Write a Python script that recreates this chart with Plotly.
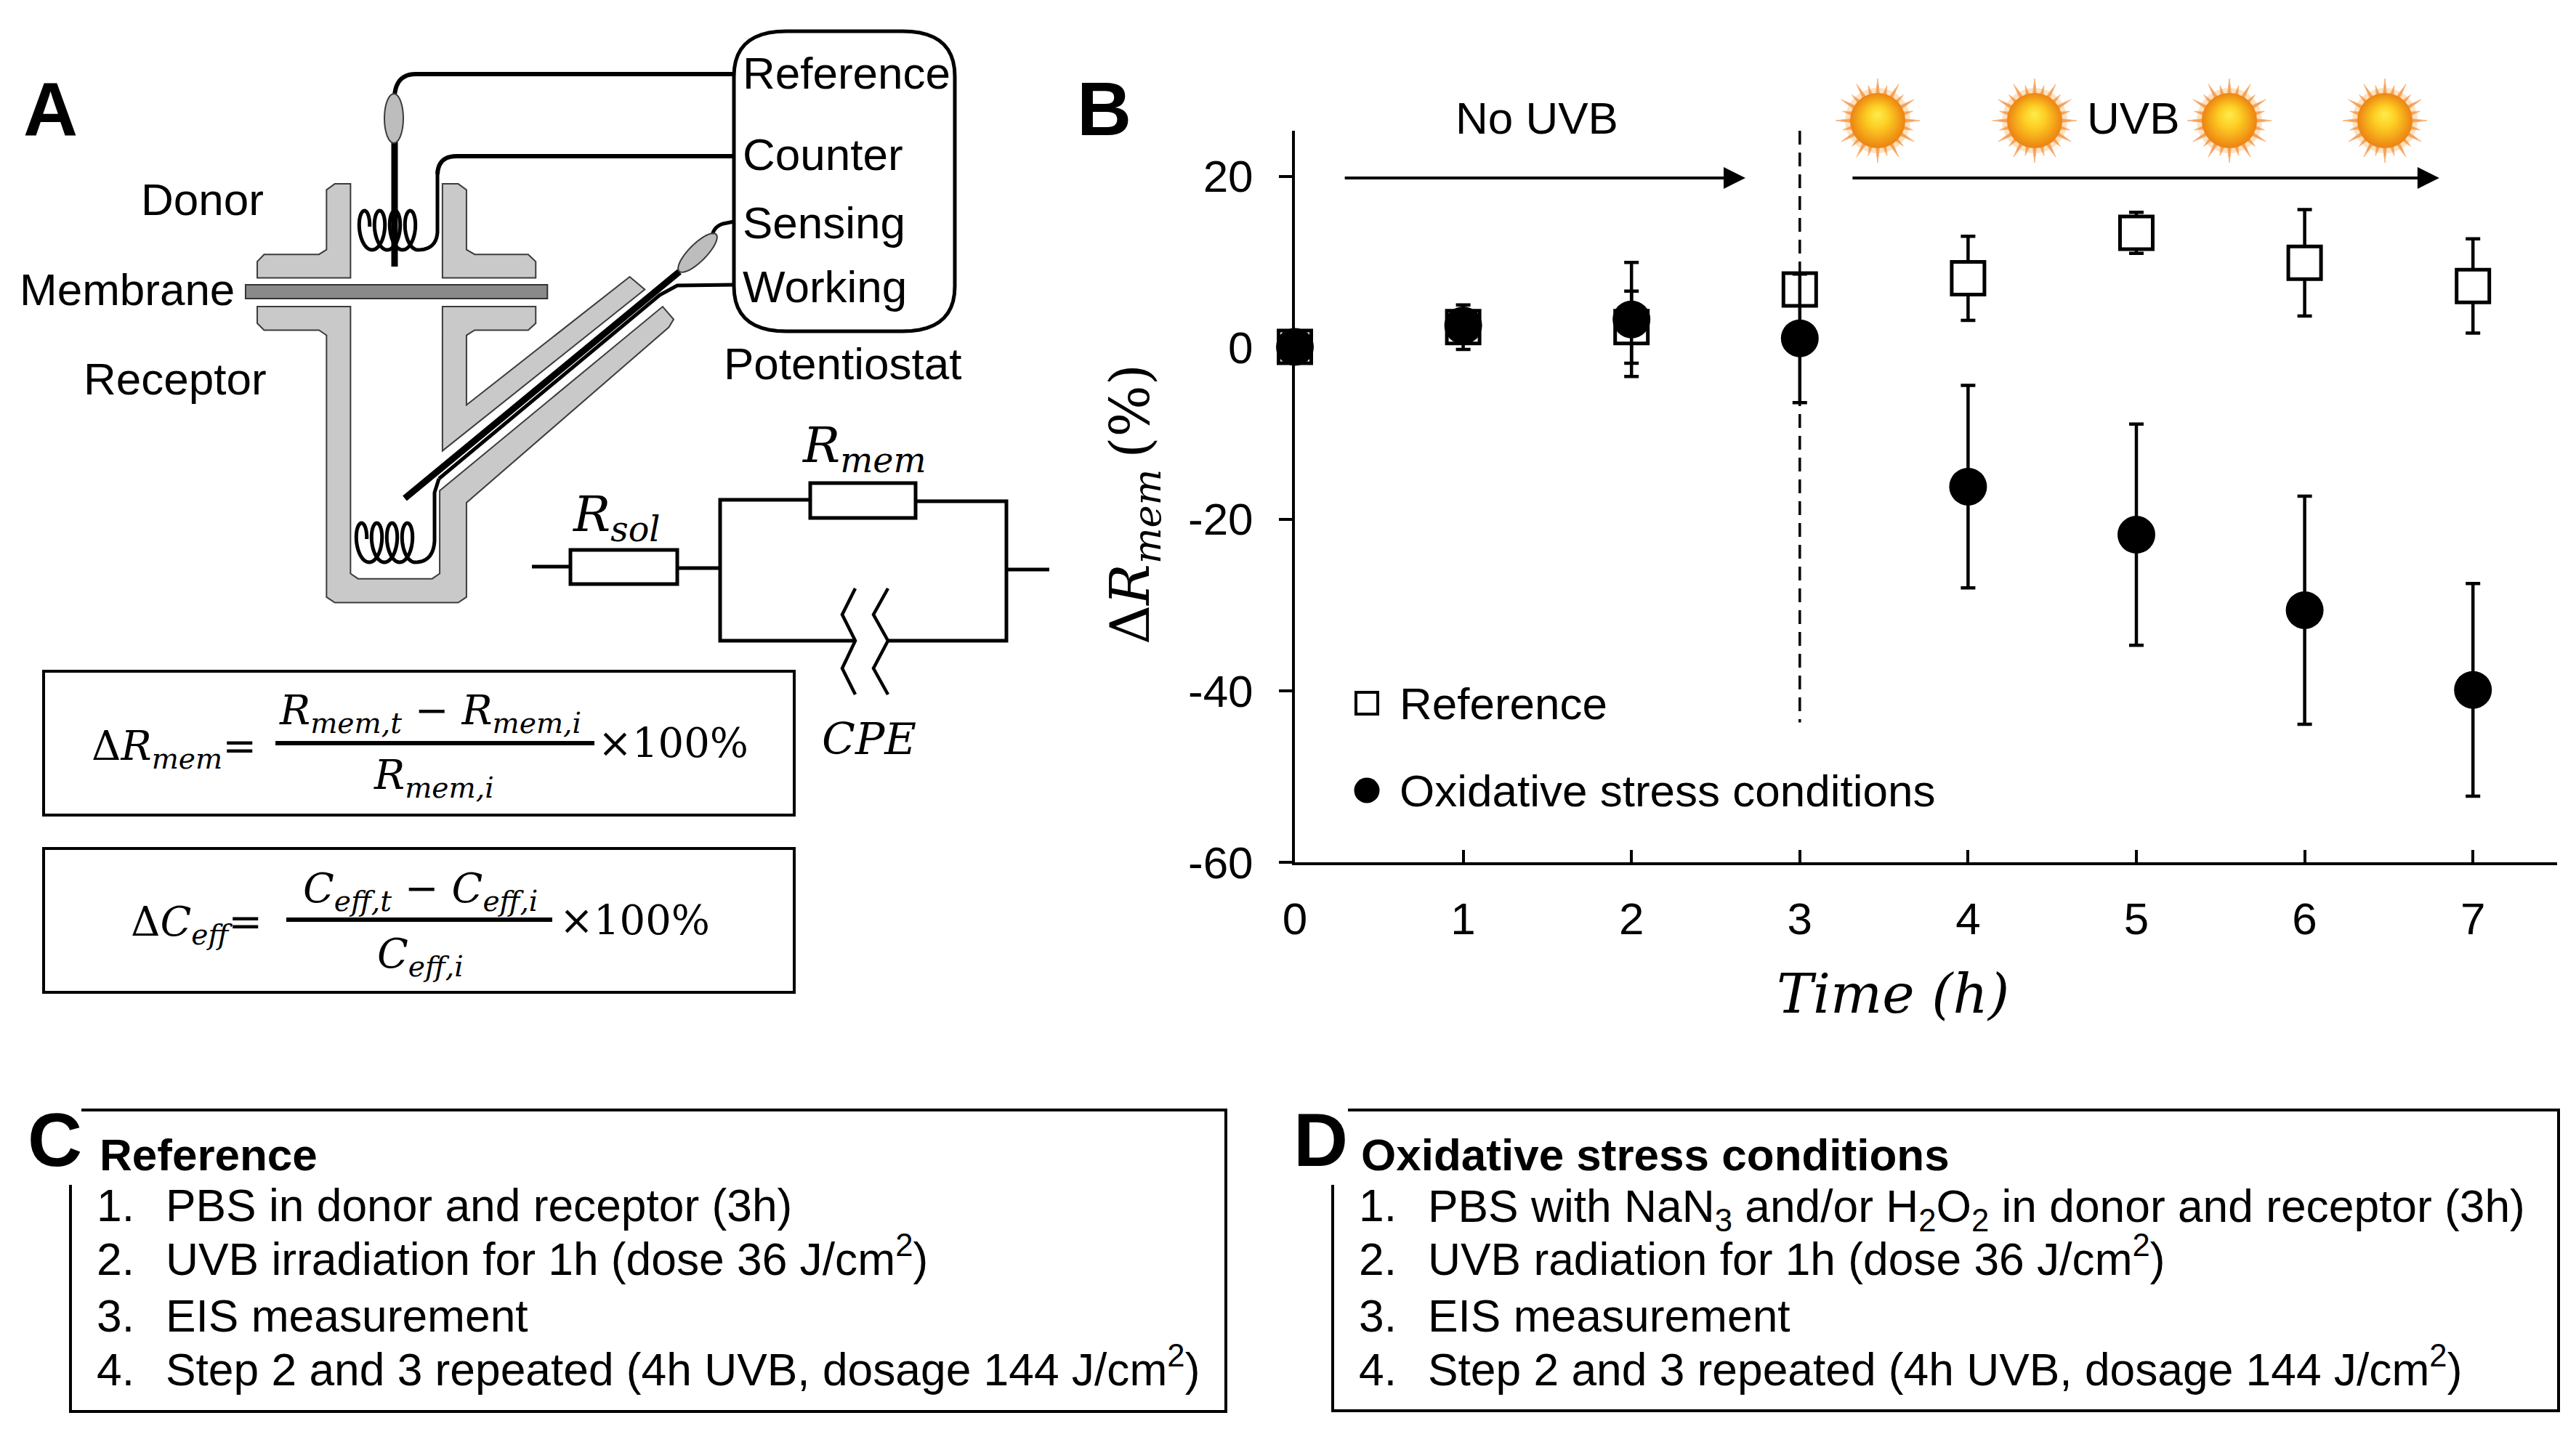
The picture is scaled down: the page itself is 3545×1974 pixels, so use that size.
import numpy as np
import plotly.graph_objects as go

# ---------- chart data (panel B) ----------
hours = [0, 1, 2, 3, 4, 5, 6, 7]
reference = [0.1, 2.4, 2.4, 6.8, 8.1, 13.4, 9.9, 7.2]
reference_err = [0.5, 2.6, 4.2, 1.6, 4.9, 2.4, 6.2, 5.5]
oxidative = [0.1, 2.6, 3.3, 1.1, -16.2, -21.8, -30.6, -39.9]
oxidative_err = [0.5, 1.3, 6.65, 7.5, 11.8, 12.9, 13.3, 12.4]
y_ticks = [-60, -40, -20, 0, 20]
y_tick_labels = ["-60", "-40", "-20", "0", "20"]
series_names = ["Reference", "Oxidative stress conditions"]

W, H = 3545, 1974
SANS = "Liberation Sans"
MATH = "DejaVu Serif"
F = 62
GRAY = "#c9c9c9"
DARK = "#3c3c3c"

X_L, X_R, Y_T, Y_B = 1782, 3519, 180, 1187
X_MAX, Y_MIN, Y_MAX = 7.5, -60, 25.3

def px(x): return x / W
def py(y): return 1 - y / H
def dx(x): return (x - X_L) / (X_R - X_L) * X_MAX
def dy(y): return Y_MIN + (Y_B - y) / (Y_B - Y_T) * (Y_MAX - Y_MIN)

shapes, notes = [], []

def path_str(pts, close=False):
    s = "M" + " L".join(f"{px(x):.5f},{py(y):.5f}" for x, y in pts)
    return s + (" Z" if close else "")

def poly(pts, fill=None, line=DARK, lw=2, close=True):
    d = dict(type="path", xref="paper", yref="paper", path=path_str(pts, close),
             line=dict(color=line, width=lw))
    if fill:
        d["fillcolor"] = fill
    if lw == 0:
        d["line"] = dict(width=0)
    shapes.append(d)

def line(pts, lw=5, color="black"):
    poly(pts, None, color, lw, close=False)

def rect(x0, y0, x1, y1, fill=None, lw=4, color="black"):
    poly([(x0, y0), (x1, y0), (x1, y1), (x0, y1)], fill or "white", color, lw)

def ellipse(cx, cy, rx, ry, angle=0, fill=GRAY, lw=2, color=DARK):
    a = np.radians(angle)
    t = np.linspace(0, 2 * np.pi, 40, endpoint=False)
    ex, ey = rx * np.cos(t), ry * np.sin(t)
    poly(list(zip(cx + ex * np.cos(a) - ey * np.sin(a), cy + ex * np.sin(a) + ey * np.cos(a))),
         fill, color, lw)

def curve(p0, c, p1, n=12):
    s = np.linspace(0, 1, n)
    return [((1 - t) ** 2 * p0[0] + 2 * t * (1 - t) * c[0] + t * t * p1[0],
             (1 - t) ** 2 * p0[1] + 2 * t * (1 - t) * c[1] + t * t * p1[1]) for t in s]

def text(s, x, y, size=F, anchor="left", font=SANS, angle=0):
    notes.append(dict(text=s, x=px(x), y=py(y), xref="paper", yref="paper", showarrow=False,
                      xanchor=anchor, yanchor="middle", align=anchor, textangle=angle,
                      font=dict(family=font, size=size, color="black")))

def Z(u, v):
    return (u * 0.944, 20 + v * 0.5485)

def Zs(*pts):
    return [Z(*p) for p in pts]

# ---------- panel A : cell ----------
poly(Zs((476, 440), (488, 425), (511, 425), (511, 661), (375, 661), (375, 620), (385, 602), (465, 602), (476, 590)), GRAY)
poly(Zs((645, 425), (668, 425), (680, 440), (680, 590), (692, 602), (770, 602), (781, 620), (781, 661), (645, 661)), GRAY)
poly(Zs((358, 678), (798, 678), (798, 713), (358, 713)), "#8a8a8a", "#333333", 2)
poly(Zs((375, 733), (511, 733), (511, 1403), (522, 1416), (630, 1416), (641, 1403), (641, 1195), (966, 733),
        (982, 765), (975, 785), (680, 1225), (680, 1462), (668, 1476), (488, 1476), (476, 1462), (476, 805),
        (465, 792), (385, 792), (375, 775)), GRAY)
poly(Zs((645, 733), (781, 733), (781, 775), (770, 792), (692, 792), (680, 805), (680, 980), (918, 658),
        (940, 690), (645, 1095)), GRAY)

# potentiostat box
bx0, by0, bx1, by1, rx, ry = 1010, 43, 1314, 456, 72, 62
box = (curve((bx0, by0 + ry), (bx0, by0), (bx0 + rx, by0)) + curve((bx1 - rx, by0), (bx1, by0), (bx1, by0 + ry)) +
       curve((bx1, by1 - ry), (bx1, by1), (bx1 - rx, by1)) + curve((bx0 + rx, by1), (bx0, by1), (bx0, by1 - ry)))
poly(box, "white", "black", 5)

def coil(x_start, yc):
    t = np.linspace(np.pi / 2, np.pi / 2 + 2 * np.pi * 3.72, 160)
    xs = x_start - 21 * (t - np.pi / 2) / (2 * np.pi) + 12 * np.cos(t)
    ys = yc + 27 * np.sin(t)
    return list(zip(xs, ys))

# reference electrode
line([(1010, 102), (572, 102)] + curve((572, 102), (545, 102), (543, 132)), 6)
line([(543, 190), (543, 367)], 9)
ellipse(542, 163, 13, 34, 0, "#bdbdbd")
# counter electrode + upper coil
line([(1010, 215), (628, 215)] + curve((628, 215), (603, 215), (602, 240)), 6)
c1 = coil(575, 317)
line([(602, 240), (602, 320)] + curve((602, 320), (600, 344), (575, 344))[1:] + c1, 5)
# sensing electrode
line([(1010, 305), (995, 308)] + curve((995, 308), (982, 312), (980, 325)), 5)
line([(935, 374), (557, 686)], 9)
ellipse(960, 348, 36, 12, -45, "#bdbdbd")
# working electrode + lower coil
line([(1010, 392), (932, 393), (908, 406), (604, 659)], 5)
c2 = coil(571, 747)
line([(604, 659), (598, 678), (598, 745)] + curve((598, 745), (596, 774), (571, 774))[1:] + c2, 5)

# ---------- equivalent circuit ----------
line([(732, 780), (785, 780)], 5)
line([(932, 782), (991, 782)], 5)
line([(1177, 882), (991, 882), (991, 688), (1115, 688)], 5)
line([(1260, 690), (1385, 690), (1385, 882), (1222, 882)], 5)
line([(1385, 784), (1444, 784)], 5)
rect(785, 757, 932, 804, "white", 5)
rect(1115, 665, 1260, 713, "white", 5)
line([(1177, 810), (1159, 846), (1177, 882), (1159, 920), (1177, 956)], 4.5)
line([(1222, 810), (1202, 846), (1222, 882), (1202, 920), (1222, 956)], 4.5)

# ---------- formula boxes ----------
rect(60, 924, 1093, 1122, "white", 4)
rect(60, 1168, 1093, 1366, "white", 4)
line([(379, 1023), (818, 1023)], 6)
line([(394, 1266), (760, 1266)], 6)

# ---------- protocol boxes ----------
line([(112, 1528), (1687, 1528), (1687, 1943), (97, 1943), (97, 1631)], 4)
line([(1855, 1528), (3521, 1528), (3521, 1942), (1834, 1942), (1834, 1631)], 4)

# ---------- suns ----------
def sun(cx, cy):
    ellipse(cx, cy, 45, 45, 0, "#fde3bd", 0, "#fde3bd")
    for i in range(24):
        a = 2 * np.pi * i / 24 - np.pi / 2
        r = 58 if i % 2 == 0 else 50
        poly([(cx + 36 * np.cos(a - 0.075), cy + 36 * np.sin(a - 0.075)),
              (cx + r * np.cos(a), cy + r * np.sin(a)),
              (cx + 36 * np.cos(a + 0.075), cy + 36 * np.sin(a + 0.075))], "#f59f58", "#f9b884", 1)
    stops = [(0.0, (255, 240, 80)), (0.45, (253, 205, 35)), (1.0, (238, 135, 20))]
    n = 14
    for k in range(n):
        f = 1 - k / n
        for (a0, c0), (a1, c1_) in zip(stops, stops[1:]):
            if a0 <= f <= a1:
                m = (f - a0) / (a1 - a0)
                col = tuple(int(c0[j] + (c1_[j] - c0[j]) * m) for j in range(3))
        ellipse(cx, cy - 9 * (1 - f), 38 * f, 38 * f, 0, "rgb(%d,%d,%d)" % col, 0, "white")

for sx in (2584, 2800, 3068, 3282):
    sun(sx, 166)

# ---------- text ----------
for s, x, y in (("A", 30, 150), ("B", 1480, 150), ("C", 36, 1569), ("D", 1778, 1569)):
    text(f"<b>{s}</b>", x, y, 104)

text("Reference", 1020, 100)
text("Counter", 1020, 212)
text("Sensing", 1020, 306)
text("Working", 1020, 394)
text("Potentiostat", 1159, 500, anchor="center")
text("Donor", 278, 274, anchor="center")
text("Membrane", 175, 398, anchor="center")
text("Receptor", 241, 522, anchor="center")

M = 56
text("<i>R<sub>sol</sub></i>", 848, 712, 68, "center", MATH)
text("<i>R<sub>mem</sub></i>", 1189, 617, 68, "center", MATH)
text("<i>CPE</i>", 1196, 1017, 60, "center", MATH)
text("Δ<i>R<sub>mem</sub></i>=", 124, 1030, M, "left", MATH)
text("<i>R<sub>mem,t</sub></i> − <i>R<sub>mem,i</sub></i>", 592, 981, M, "center", MATH)
text("<i>R<sub>mem,i</sub></i>", 597, 1070, M, "center", MATH)
text("×100%", 821, 1023, M, "left", MATH)
text("Δ<i>C<sub>eff</sub></i>=", 178, 1272, M, "left", MATH)
text("<i>C<sub>eff,t</sub></i> − <i>C<sub>eff,i</sub></i>", 578, 1226, M, "center", MATH)
text("<i>C<sub>eff,i</sub></i>", 578, 1316, M, "center", MATH)
text("×100%", 768, 1266, M, "left", MATH)

steps_c = ["PBS in donor and receptor (3h)", "UVB irradiation for 1h (dose 36 J/cm<sup>2</sup>)",
           "EIS measurement", "Step 2 and 3 repeated (4h UVB, dosage 144 J/cm<sup>2</sup>)"]
steps_d = ["PBS with NaN<sub>3</sub> and/or H<sub>2</sub>O<sub>2</sub> in donor and receptor (3h)",
           "UVB radiation for 1h (dose 36 J/cm<sup>2</sup>)", "EIS measurement",
           "Step 2 and 3 repeated (4h UVB, dosage 144 J/cm<sup>2</sup>)"]
line_y = [1659, 1733, 1811, 1885]
text("<b>Reference</b>", 135, 1589, 62)
text("<b>Oxidative stress conditions</b>", 1871, 1589, 62)

def tweak(s):
    if "<sup>" in s:
        return -4
    if "<sub>" in s:
        return 6
    return 0

for i, (a, b, y) in enumerate(zip(steps_c, steps_d, line_y)):
    text(f"{i + 1}.", 131, y, 62.3)
    text(a, 226, y + tweak(a), 62.3)
    text(f"{i + 1}.", 1868, y, 62.3)
    text(b, 1963, y + tweak(b), 62.3)

text("No UVB", 2115, 162, anchor="center")
text("UVB", 2935, 162, anchor="center")
text(series_names[0], 1924, 968)
text(series_names[1], 1924, 1088)
text("<i>Time (h)</i>", 2605, 1368, 75, "center", MATH)
text("Δ<i>R<sub>mem</sub></i>\u2009(%)", 1560, 694, 75, "center", MATH, angle=-90)

# ---------- panel B traces ----------
fig = go.Figure()
fig.add_trace(go.Scatter(
    x=hours, y=reference, name=series_names[0], mode="markers", cliponaxis=False, showlegend=False,
    marker=dict(symbol="square", size=45, color="white", line=dict(color="black", width=5)),
    error_y=dict(type="data", array=reference_err, color="black", thickness=4.5, width=10)))
fig.add_trace(go.Scatter(
    x=hours, y=oxidative, name=series_names[1], mode="markers", cliponaxis=False, showlegend=False,
    marker=dict(symbol="circle", size=52, color="black", line=dict(width=0)),
    error_y=dict(type="data", array=oxidative_err, color="black", thickness=4.5, width=10)))
# legend keys
fig.add_trace(go.Scatter(
    x=[dx(1881)], y=[dy(968)], mode="markers", showlegend=False, hoverinfo="skip",
    marker=dict(symbol="square", size=30, color="white", line=dict(color="black", width=4))))
fig.add_trace(go.Scatter(
    x=[dx(1881)], y=[dy(1088)], mode="markers", showlegend=False, hoverinfo="skip",
    marker=dict(symbol="circle", size=35, color="black", line=dict(width=0))))

# dashed separator + phase arrows, in data coordinates
shapes.append(dict(type="line", xref="x", yref="y", x0=3, x1=3, y0=Y_MAX, y1=-43.7,
                   line=dict(color="black", width=3.5, dash="19px,11px")))
for x0, x1 in ((0.29, 2.677), (3.307, 6.80)):
    notes.append(dict(x=x1, y=19.8, ax=x0, ay=19.8, xref="x", yref="y", axref="x", ayref="y", text="",
                      showarrow=True, arrowhead=2, arrowsize=1.5, arrowwidth=4, arrowcolor="black"))

fig.update_layout(
    template=None,
    width=W, height=H, autosize=False, margin=dict(l=0, r=0, t=0, b=0, autoexpand=False),
    paper_bgcolor="white", plot_bgcolor="white", shapes=shapes, annotations=notes,
    font=dict(family=SANS, size=F, color="black"), showlegend=False,
    xaxis=dict(domain=[px(X_L), px(X_R)], range=[0, X_MAX], tickmode="array", tickvals=hours, automargin=False,
               showgrid=False, zeroline=False, showline=True, linecolor="black", linewidth=4,
               ticks="inside", ticklen=17, tickwidth=4, tickcolor="black", ticklabelstandoff=21,
               tickfont=dict(size=F)),
    yaxis=dict(domain=[py(Y_B), py(Y_T)], range=[Y_MIN, Y_MAX], tickmode="array", tickvals=y_ticks,
               ticktext=y_tick_labels, automargin=False,
               showgrid=False, zeroline=False, showline=True, linecolor="black", linewidth=4,
               ticks="outside", ticklen=18, tickwidth=4, tickcolor="black", ticklabelstandoff=23,
               tickfont=dict(size=F)),
)

fig.write_html("out.html", config=dict(displayModeBar=False),
               post_script="document.body.style.margin='0';document.body.style.overflow='hidden';")
